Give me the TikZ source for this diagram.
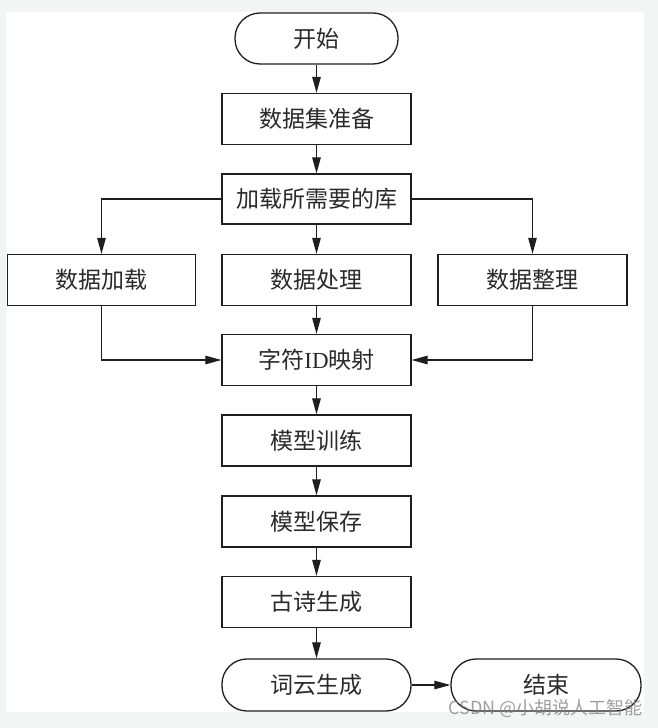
\documentclass[tikz,border=0pt]{standalone}
\usepackage{fontspec}
\setmainfont{Liberation Serif}
\newfontfamily\cjk{Noto Sans CJK SC}
\usetikzlibrary{arrows.meta}
\definecolor{pagegray}{HTML}{F3F4F4}
\definecolor{inkc}{HTML}{1E1E1E}
\definecolor{textc}{HTML}{2A2A2A}
\tikzset{
  box/.style={draw=inkc, line width=1.3pt, minimum width=189pt, minimum height=51pt,
    inner sep=0pt, font=\fontsize{23}{25}\selectfont\cjk, text=textc},
  term/.style={box, rounded corners=25pt},
  conn/.style={draw=inkc, line width=1.2pt, -{Triangle[length=16pt,width=8.5pt]}},
}
\begin{document}
\begin{tikzpicture}[x=1pt,y=-1pt]
\fill[pagegray] (0,0) rectangle (658,728);
\fill[white] (6,12) rectangle (644,712);
\useasboundingbox (0,0) rectangle (658,728);
\node[term, minimum width=163pt] (start) at (316.5,38.5) {开始};
\node[box] (prep) at (316.5,119) {数据集准备};
\node[box, minimum height=50pt] (lib) at (316.5,199) {加载所需要的库};
\node[box, minimum width=188pt] (load) at (101.5,280) {数据加载};
\node[box] (proc) at (316.5,280) {数据处理};
\node[box] (tidy) at (532.5,280) {数据整理};
\node[box] (map) at (316.5,360) {字符{\fontspec{Liberation Serif}ID}映射};
\node[box] (train) at (316.5,440.5) {模型训练};
\node[box] (save) at (316.5,521.5) {模型保存};
\node[box] (poem) at (316.5,602) {古诗生成};
\node[term, minimum height=52pt] (cloud) at (316.5,685) {词云生成};
\node[term, minimum height=52pt, minimum width=190pt] (end) at (546,685) {结束};
\draw[conn] (start) -- (prep);
\draw[conn] (prep) -- (lib);
\draw[conn] (lib) -- (proc);
\draw[conn] (lib.west) -| (load.north);
\draw[conn] (lib.east) -| (tidy.north);
\draw[conn] (proc) -- (map);
\draw[conn] (load.south) |- (map.west);
\draw[conn] (tidy.south) |- (map.east);
\draw[conn] (map) -- (train);
\draw[conn] (train) -- (save);
\draw[conn] (save) -- (poem);
\draw[conn] (poem) -- (cloud);
\draw[conn] (cloud) -- (end);
\node[text=gray, opacity=0.75, font=\fontsize{18}{20}\selectfont\cjk, anchor=east, inner sep=0pt] (wm) at (643,708) {CSDN @小胡说人工智能};
\end{tikzpicture}
\end{document}
